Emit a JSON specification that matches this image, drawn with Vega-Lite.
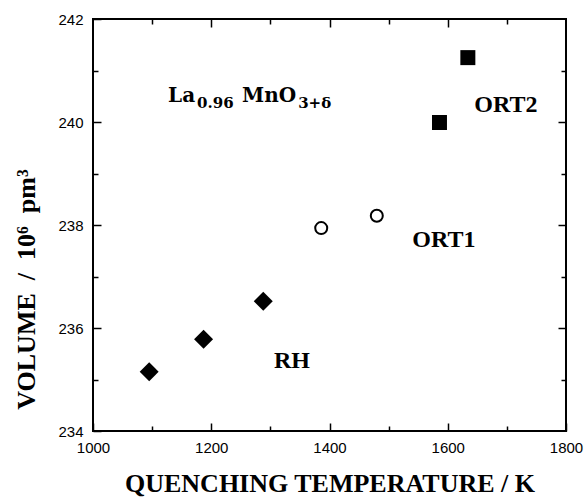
{
  "$schema": "https://vega.github.io/schema/vega-lite/v6.json",
  "width": 473,
  "height": 412,
  "autosize": {"type": "none"},
  "padding": {"left": 93, "top": 19, "right": 20, "bottom": 66},
  "background": "white",
  "config": {
    "view": {"stroke": "black", "strokeWidth": 2},
    "axis": {
      "grid": false,
      "domain": false,
      "tickColor": "black",
      "tickWidth": 1.5,
      "labelColor": "black",
      "labelFont": "Liberation Sans",
      "labelFontSize": 15,
      "titleFont": "Liberation Serif",
      "titleFontSize": 26,
      "titleFontWeight": "bold",
      "titleColor": "black"
    }
  },
  "datasets": {
    "pts": [
      {"T": 1095, "V": 235.15, "phase": "RH"},
      {"T": 1187, "V": 235.78, "phase": "RH"},
      {"T": 1288, "V": 236.52, "phase": "RH"},
      {"T": 1386, "V": 237.94, "phase": "ORT1"},
      {"T": 1480, "V": 238.18, "phase": "ORT1"},
      {"T": 1586, "V": 239.99, "phase": "ORT2"},
      {"T": 1634, "V": 241.25, "phase": "ORT2"}
    ],
    "phaseLabels": [
      {"T": 1306, "V": 235.22, "txt": "RH"},
      {"T": 1540, "V": 237.57, "txt": "ORT1"},
      {"T": 1645, "V": 240.19, "txt": "ORT2"}
    ],
    "formulaMain": [
      {"T": 1127, "V": 240.39, "txt": "La"},
      {"T": 1252, "V": 240.39, "txt": "MnO"}
    ],
    "formulaSub": [
      {"T": 1176, "V": 240.28, "txt": "0.96"},
      {"T": 1347, "V": 240.27, "txt": "3+δ"}
    ]
  },
  "layer": [
    {
      "data": {"name": "pts"},
      "mark": {"type": "point", "opacity": 0},
      "encoding": {
        "x": {"field": "T", "type": "quantitative", "scale": {"domain": [1000, 1800], "nice": false, "zero": false},
              "axis": {"orient": "bottom", "values": [1000, 1200, 1400, 1600, 1800], "format": "d", "tickSize": -8, "labelPadding": 17, "labelFlush": false,
                       "title": "QUENCHING TEMPERATURE / K", "titleY": 60, "titleBaseline": "alphabetic"}},
        "y": {"field": "V", "type": "quantitative", "scale": {"domain": [234, 242], "nice": false, "zero": false},
              "axis": {"orient": "left", "values": [234, 236, 238, 240, 242], "format": "d", "tickSize": -8, "labelPadding": 18, "labelFlush": false,
                       "title": "VOLUME\u00a0\u00a0/\u00a0\u00a010⁶\u00a0\u00a0pm³", "titleX": -59, "titleY": 270, "titleAngle": 270, "titleAlign": "center", "titleBaseline": "alphabetic"}}
      }
    },
    {
      "data": {"name": "pts"},
      "mark": {"type": "point", "opacity": 0},
      "encoding": {
        "x": {"field": "T", "type": "quantitative", "scale": {"domain": [1000, 1800], "nice": false, "zero": false},
              "axis": {"orient": "bottom", "values": [1100, 1300, 1500, 1700], "tickSize": -5, "labels": false, "title": null}},
        "y": {"field": "V", "type": "quantitative", "scale": {"domain": [234, 242], "nice": false, "zero": false},
              "axis": {"orient": "left", "values": [235, 237, 239, 241], "tickSize": -5, "labels": false, "title": null}}
      }
    },
    {
      "data": {"name": "pts"},
      "mark": {"type": "point", "opacity": 0},
      "encoding": {
        "x": {"field": "T", "type": "quantitative", "scale": {"domain": [1000, 1800], "nice": false, "zero": false},
              "axis": {"orient": "top", "values": [1200, 1400, 1600], "tickSize": -8, "labels": false, "title": null}},
        "y": {"field": "V", "type": "quantitative", "scale": {"domain": [234, 242], "nice": false, "zero": false},
              "axis": {"orient": "right", "values": [236, 238, 240], "tickSize": -8, "labels": false, "title": null}}
      }
    },
    {
      "data": {"name": "pts"},
      "mark": {"type": "point", "opacity": 0},
      "encoding": {
        "x": {"field": "T", "type": "quantitative", "scale": {"domain": [1000, 1800], "nice": false, "zero": false},
              "axis": {"orient": "top", "values": [1100, 1300, 1500, 1700], "tickSize": -5, "labels": false, "title": null}},
        "y": {"field": "V", "type": "quantitative", "scale": {"domain": [234, 242], "nice": false, "zero": false},
              "axis": {"orient": "right", "values": [235, 237, 239, 241], "tickSize": -5, "labels": false, "title": null}}
      }
    },
    {
      "data": {"name": "pts"},
      "transform": [{"filter": "datum.phase === 'RH'"}],
      "mark": {"type": "point", "shape": "diamond", "size": 360, "filled": true, "color": "black", "opacity": 1},
      "encoding": {
        "x": {"field": "T", "type": "quantitative", "scale": {"domain": [1000, 1800], "nice": false, "zero": false}, "axis": null},
        "y": {"field": "V", "type": "quantitative", "scale": {"domain": [234, 242], "nice": false, "zero": false}, "axis": null}
      }
    },
    {
      "data": {"name": "pts"},
      "transform": [{"filter": "datum.phase === 'ORT1'"}],
      "mark": {"type": "point", "shape": "circle", "size": 144, "filled": false, "stroke": "black", "strokeWidth": 2, "fill": "white", "opacity": 1},
      "encoding": {
        "x": {"field": "T", "type": "quantitative", "scale": {"domain": [1000, 1800], "nice": false, "zero": false}, "axis": null},
        "y": {"field": "V", "type": "quantitative", "scale": {"domain": [234, 242], "nice": false, "zero": false}, "axis": null}
      }
    },
    {
      "data": {"name": "pts"},
      "transform": [{"filter": "datum.phase === 'ORT2'"}],
      "mark": {"type": "point", "shape": "square", "size": 225, "filled": true, "color": "black", "opacity": 1},
      "encoding": {
        "x": {"field": "T", "type": "quantitative", "scale": {"domain": [1000, 1800], "nice": false, "zero": false}, "axis": null},
        "y": {"field": "V", "type": "quantitative", "scale": {"domain": [234, 242], "nice": false, "zero": false}, "axis": null}
      }
    },
    {
      "data": {"name": "phaseLabels"},
      "mark": {"type": "text", "align": "left", "baseline": "alphabetic", "font": "Liberation Serif", "fontWeight": "bold", "fontSize": 24, "color": "black"},
      "encoding": {
        "x": {"field": "T", "type": "quantitative", "scale": {"domain": [1000, 1800], "nice": false, "zero": false}, "axis": null},
        "y": {"field": "V", "type": "quantitative", "scale": {"domain": [234, 242], "nice": false, "zero": false}, "axis": null},
        "text": {"field": "txt"}
      }
    },
    {
      "data": {"name": "formulaMain"},
      "mark": {"type": "text", "align": "left", "baseline": "alphabetic", "font": "DejaVu Serif", "fontWeight": "bold", "fontSize": 20, "color": "black"},
      "encoding": {
        "x": {"field": "T", "type": "quantitative", "scale": {"domain": [1000, 1800], "nice": false, "zero": false}, "axis": null},
        "y": {"field": "V", "type": "quantitative", "scale": {"domain": [234, 242], "nice": false, "zero": false}, "axis": null},
        "text": {"field": "txt"}
      }
    },
    {
      "data": {"name": "formulaSub"},
      "mark": {"type": "text", "align": "left", "baseline": "alphabetic", "font": "DejaVu Serif", "fontWeight": "bold", "fontSize": 15, "color": "black"},
      "encoding": {
        "x": {"field": "T", "type": "quantitative", "scale": {"domain": [1000, 1800], "nice": false, "zero": false}, "axis": null},
        "y": {"field": "V", "type": "quantitative", "scale": {"domain": [234, 242], "nice": false, "zero": false}, "axis": null},
        "text": {"field": "txt"}
      }
    }
  ],
  "resolve": {"axis": {"x": "independent", "y": "independent"}}
}
